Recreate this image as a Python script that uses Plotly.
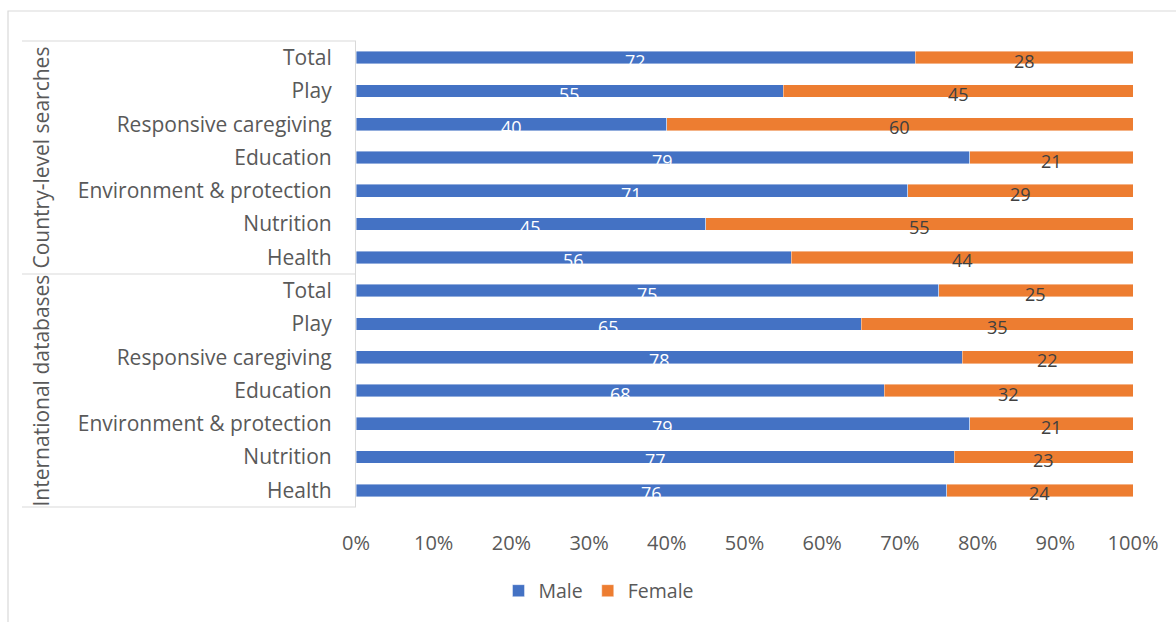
import plotly.graph_objects as go

groups = ["Country-level searches", "International databases"]
categories = ["Total", "Play", "Responsive caregiving", "Education",
              "Environment & protection", "Nutrition", "Health"]
male_country = [72, 55, 40, 79, 71, 45, 56]
female_country = [28, 45, 60, 21, 29, 55, 44]
male_intl = [75, 65, 78, 68, 79, 77, 76]
female_intl = [25, 35, 22, 32, 21, 23, 24]
x_ticks = [0, 10, 20, 30, 40, 50, 60, 70, 80, 90, 100]

labels = categories + categories
male = male_country + male_intl
female = female_country + female_intl
ypos = list(range(len(labels)))

BLUE = "#4472C4"
ORANGE = "#ED7D31"
GREY = "#595959"
FONT = "Open Sans"

W, H = 1176, 622
L, R, T, B = 356, 1133, 41, 507
pw, ph = R - L, B - T


def px(x):
    return (x - L) / pw


def py(y):
    return (B - y) / ph


fig = go.Figure()
fig.add_trace(go.Bar(y=ypos, x=male, orientation="h", name="Male",
                     marker=dict(color=BLUE, line=dict(color="rgba(255,255,255,0.6)", width=0.7))))
fig.add_trace(go.Bar(y=ypos, x=female, orientation="h", name="Female",
                     marker=dict(color=ORANGE, line=dict(color="rgba(255,255,255,0.6)", width=0.7))))

ann = []
for i, (m, f) in enumerate(zip(male, female)):
    ann.append(dict(x=m / 2, y=i, text=str(m), showarrow=False, yshift=-3,
                    font=dict(family=FONT, size=18, color="white")))
    ann.append(dict(x=m + f / 2, y=i, text=str(f), showarrow=False, yshift=-3,
                    font=dict(family=FONT, size=18, color="#404040")))

n = len(categories)
for g, name in enumerate(groups):
    ann.append(dict(xref="paper", yref="y", x=px(40), y=g * n + (n - 1) / 2,
                    text=name, textangle=-90, showarrow=False,
                    xanchor="center", yanchor="middle",
                    font=dict(family=FONT, size=21, color=GREY)))

shapes = [
    dict(type="rect", xref="paper", yref="paper", x0=px(8), x1=px(1190),
         y0=py(11), y1=py(640), line=dict(color="#d9d9d9", width=1.2)),
    dict(type="line", xref="paper", yref="paper", x0=px(22), x1=0,
         y0=1, y1=1, line=dict(color="#d9d9d9", width=1.2)),
    dict(type="line", xref="paper", yref="paper", x0=px(22), x1=0,
         y0=0, y1=0, line=dict(color="#d9d9d9", width=1.2)),
    dict(type="line", xref="paper", yref="y", x0=px(22), x1=0,
         y0=n - 0.5, y1=n - 0.5, line=dict(color="#d9d9d9", width=1.2)),
]

fig.update_layout(
    width=W, height=H,
    margin=dict(l=L, r=W - R, t=T, b=H - B),
    barmode="stack", bargap=0.62,
    plot_bgcolor="white", paper_bgcolor="white",
    font=dict(family=FONT, color=GREY),
    annotations=ann, shapes=shapes,
    legend=dict(orientation="h", x=px(599), xanchor="center",
                y=py(591), yanchor="middle",
                font=dict(family=FONT, size=19.5, color=GREY),
                itemwidth=30, traceorder="normal"),
    xaxis=dict(range=[0, 100], tickvals=x_ticks,
               ticktext=[f"{v}%" for v in x_ticks],
               showgrid=False, zeroline=False, showline=False,
               ticks="outside", ticklen=18, tickcolor="rgba(0,0,0,0)",
               tickfont=dict(family=FONT, size=20, color=GREY)),
    yaxis=dict(range=[len(labels) - 0.5, -0.5], tickvals=ypos, ticktext=labels,
               showgrid=False, zeroline=False, showline=True,
               linecolor="#d9d9d9", linewidth=1.2,
               ticks="outside", ticklen=19, tickcolor="rgba(0,0,0,0)",
               tickfont=dict(family=FONT, size=21, color=GREY)),
)

fig.write_html("out.html")
